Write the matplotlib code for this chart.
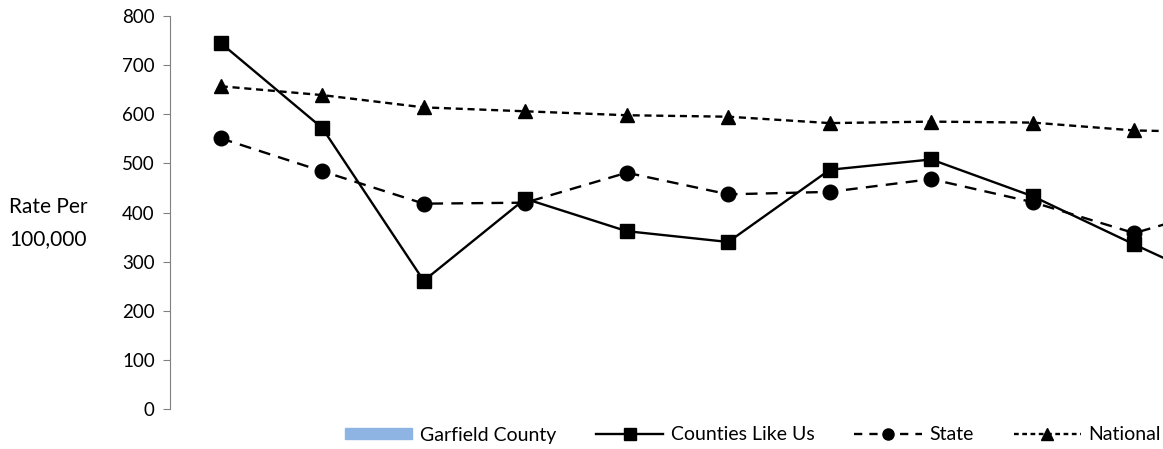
import numpy as np
import matplotlib.pyplot as plt
from matplotlib.lines import Line2D
from matplotlib.patches import Patch

plt.rcParams['font.family'] = ['Lato', 'DejaVu Sans']

# values (last point sits past the right edge of the picture)
counties_like_us = [745, 572, 261, 428, 362, 340, 487, 508, 433, 335, 240]
state = [551, 484, 418, 420, 481, 437, 442, 468, 421, 358, 418]
national = [657, 639, 614, 606, 598, 595, 582, 585, 583, 567, 563]
yticks = [0, 100, 200, 300, 400, 500, 600, 700, 800]

x = np.arange(len(counties_like_us)) + 0.5

fig = plt.figure(figsize=(11.63, 4.49), dpi=100)
# axes runs off the right side of the figure, like the cropped original
ax = fig.add_axes([170 / 1163, 40 / 449, len(x) * 101.5 / 1163, 393 / 449])

ax.plot(x, counties_like_us, color='black', lw=1.7, marker='s', ms=10.5, zorder=3)
ax.plot(x, state, color='black', lw=1.7, ls=(0, (5, 3.5)), marker='o', ms=10.5, zorder=3)
ax.plot(x, national, color='black', lw=1.7, ls=(0, (3, 2)), marker='^', ms=10.5, zorder=3)

ax.set_xlim(0, len(x))
ax.set_ylim(0, 800)
ax.set_yticks(yticks)
ax.set_xticks([])
for s in ['top', 'right', 'bottom']:
    ax.spines[s].set_visible(False)
ax.spines['left'].set_color('#808080')
ax.tick_params(axis='y', direction='out', length=5, color='#808080', labelsize=13.5, pad=6)

fig.text(9 / 1163, (449 - 223) / 449, 'Rate Per\n100,000', fontsize=15, va='center', ha='left',
         linespacing=1.75)

handles = [
    Patch(color='#8EB4E3'),
    Line2D([], [], color='black', lw=1.7, marker='s', ms=8),
    Line2D([], [], color='black', lw=1.7, ls=(0, (3.5, 3)), marker='o', ms=8),
    Line2D([], [], color='black', lw=1.7, ls=(0, (2, 1.5)), marker='^', ms=8),
]
labels = ['Garfield County', 'Counties Like Us', 'State', 'National']
fig.legend(handles, labels, loc='center', bbox_to_anchor=(753 / 1163, 14 / 449), ncol=4,
           frameon=False, fontsize=14, handlelength=3.45, handleheight=0.55,
           columnspacing=2.05, handletextpad=0.4)

plt.savefig('out.png', dpi=100)
